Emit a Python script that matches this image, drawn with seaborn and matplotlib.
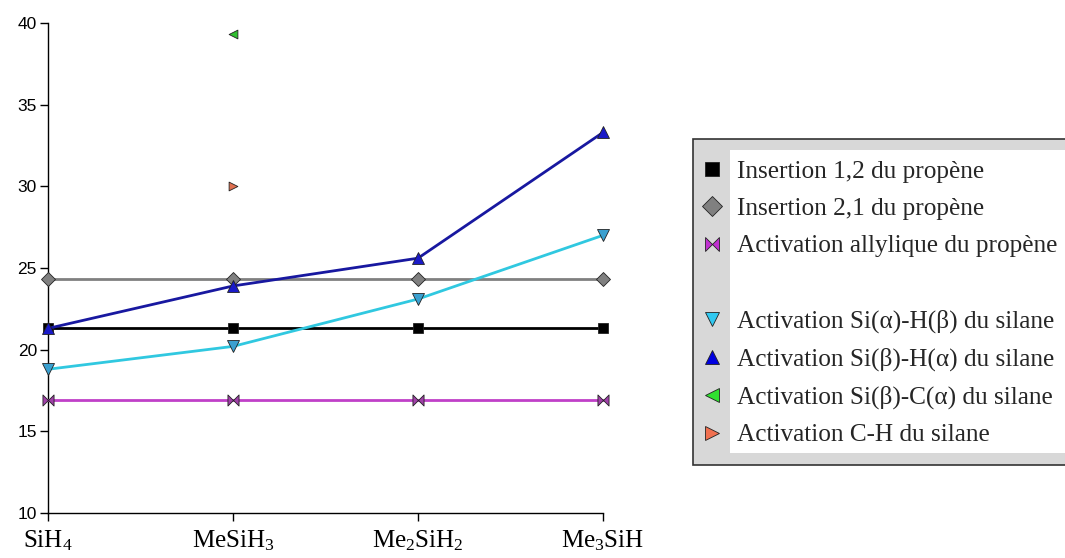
import numpy as np
import pandas as pd
import seaborn as sns
import matplotlib.pyplot as plt
from matplotlib.lines import Line2D
from matplotlib.path import Path
from matplotlib.patches import Rectangle

categories = ["SiH$_4$", "MeSiH$_3$", "Me$_2$SiH$_2$", "Me$_3$SiH"]

insertion_12 = [21.3, 21.3, 21.3, 21.3]
insertion_21 = [24.3, 24.3, 24.3, 24.3]
allylique = [16.9, 16.9, 16.9, 16.9]
si_a_h_b = [18.8, 20.2, 23.1, 27.0]
si_b_h_a = [21.3, 23.9, 25.6, 33.3]
si_b_c_a = [np.nan, 39.3, np.nan, np.nan]
c_h = [np.nan, 30.0, np.nan, np.nan]

labels = [
    "Insertion 1,2 du propène",
    "Insertion 2,1 du propène",
    "Activation allylique du propène",
    "Activation Si(α)-H(β) du silane",
    "Activation Si(β)-H(α) du silane",
    "Activation Si(β)-C(α) du silane",
    "Activation C-H du silane",
]

# bowtie marker for the allylic activation
bowtie = Path(
    [(-1, -1), (0, 0), (-1, 1), (-1, -1), (1, -1), (0, 0), (1, 1), (1, -1)],
    [Path.MOVETO, Path.LINETO, Path.LINETO, Path.CLOSEPOLY,
     Path.MOVETO, Path.LINETO, Path.LINETO, Path.CLOSEPOLY],
)

series = [
    # values, line colour, marker, marker colour, legend marker colour
    (insertion_12, "#000000", "s", "#000000", "#000000"),
    (insertion_21, "#808080", "D", "#808080", "#808080"),
    (allylique, "#c040c8", bowtie, "#a040a8", "#c030d0"),
    (si_a_h_b, "#30c8e0", "v", "#3aa0d0", "#30c8f0"),
    (si_b_h_a, "#1818a0", "^", "#1a1ac8", "#0000e0"),
    (si_b_c_a, "none", "<", "#30c030", "#30e030"),
    (c_h, "none", ">", "#e07050", "#f07050"),
]

sns.set_style("ticks")
plt.rcParams["mathtext.fontset"] = "custom"
plt.rcParams["mathtext.rm"] = "Liberation Serif"
plt.rcParams["mathtext.it"] = "Liberation Serif:italic"

fig = plt.figure(figsize=(10.65, 5.58), dpi=100)
ax = fig.add_axes([48 / 1065, 1 - 513 / 558, (603 - 48) / 1065, (513 - 23) / 558])

x = np.arange(len(categories))
for vals, lc, mk, mc, _ in series:
    df = pd.DataFrame({"x": x, "y": vals})
    ms = 7 if mk in ("s", "D") else 8
    if lc != "none":
        sns.lineplot(data=df, x="x", y="y", ax=ax, color=lc, linewidth=2,
                     marker=mk, markersize=ms, markerfacecolor=mc,
                     markeredgecolor="#222222", markeredgewidth=0.6,
                     clip_on=False, zorder=3)
    else:
        sns.scatterplot(data=df, x="x", y="y", ax=ax, color=mc, marker=mk,
                        s=40, edgecolor="#222222", linewidth=0.6,
                        clip_on=False, zorder=3)

ax.set_xlim(0, 3)
ax.set_ylim(10, 40)
ax.set_yticks([10, 15, 20, 25, 30, 35, 40])
ax.set_xticks(x)
ax.set_xticklabels(categories, family="Liberation Serif", fontsize=18)
for t in ax.get_yticklabels():
    t.set_family("Liberation Sans")
    t.set_fontsize(12.5)
ax.tick_params(axis="both", colors="black", length=6, width=1, pad=2)
ax.tick_params(axis="x", pad=5)
ax.set_xlabel("")
ax.set_ylabel("")
for s in ["top", "right"]:
    ax.spines[s].set_visible(False)
for s in ["left", "bottom"]:
    ax.spines[s].set_color("black")
    ax.spines[s].set_linewidth(1)

# legend box: grey frame with a white inner panel
fig.patches.append(Rectangle((693 / 1065, 1 - 465 / 558), (1075 - 693) / 1065, 326 / 558,
                             transform=fig.transFigure, facecolor="#d8d8d8",
                             edgecolor="#333333", linewidth=1.2, zorder=0))
fig.patches.append(Rectangle((730 / 1065, 1 - 453 / 558), (1070 - 730) / 1065, 303 / 558,
                             transform=fig.transFigure, facecolor="white",
                             edgecolor="none", zorder=1))

handles = []
for vals, lc, mk, mc, lgc in series:
    handles.append(Line2D([], [], linestyle="none", marker=mk, markersize=10,
                          markerfacecolor=lgc, markeredgecolor="#222222",
                          markeredgewidth=0.6))
blank = Line2D([], [], linestyle="none", marker="")
handles = handles[:3] + [blank] + handles[3:]
leg_labels = labels[:3] + [" "] + labels[3:]
fig.legend(handles, leg_labels, loc="upper left",
           bbox_to_anchor=(699.5 / 1065, 1 - 160 / 558), frameon=False,
           prop={"family": "Liberation Serif", "size": 18.2},
           handlelength=1.0, handletextpad=0.5, labelspacing=0.58,
           borderpad=0, borderaxespad=0)

fig.savefig("out.png", dpi=100)
